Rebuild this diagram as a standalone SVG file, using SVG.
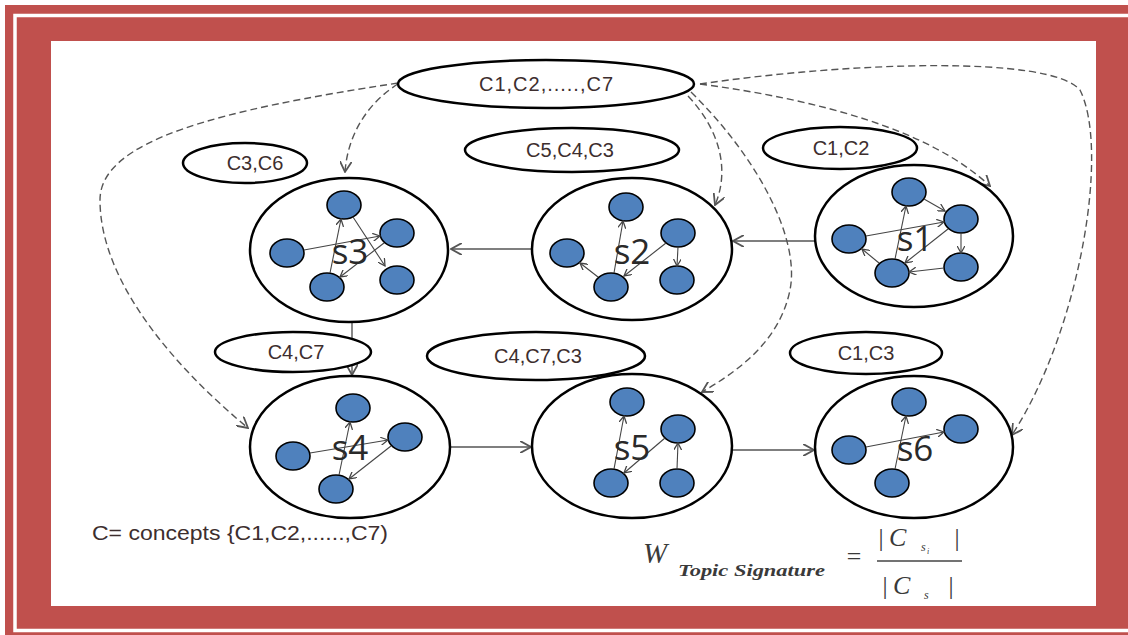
<svg xmlns="http://www.w3.org/2000/svg" width="1128" height="635" viewBox="0 0 1128 635">
<style>
.big{fill:#fff;stroke:#000;stroke-width:2.5}
.lab{fill:#fff;stroke:#000;stroke-width:2.5}
.n{fill:#4f81bd;stroke:#000;stroke-width:1.6}
.e{stroke:#444;stroke-width:1.1;fill:none;marker-end:url(#sa)}
.c{stroke:#555;stroke-width:1.4;fill:none;marker-end:url(#ma)}
.d{stroke:#555;stroke-width:1.4;fill:none;stroke-dasharray:7,4;marker-end:url(#ma)}
.lt{font-family:"Liberation Sans",Arial,sans-serif;font-size:20px;fill:#3d2e2e;text-anchor:middle}
.st{font-family:"Open Sans","Liberation Sans",sans-serif;font-size:35px;fill:#2a2a2a;text-anchor:middle}
.f{font-family:"Liberation Serif","Times New Roman",serif;font-style:italic;fill:#3a3a3a}
</style>
<defs>
<marker id="ma" markerUnits="userSpaceOnUse" markerWidth="12" markerHeight="12" refX="9" refY="5" orient="auto" viewBox="0 0 10 10">
<path d="M0,0 L9,5 L0,10" fill="none" stroke="#555" stroke-width="1.5"/>
</marker>
<marker id="sa" markerUnits="userSpaceOnUse" markerWidth="8" markerHeight="8" refX="9" refY="5" orient="auto" viewBox="0 0 10 10">
<path d="M0,0 L9,5 L0,10" fill="none" stroke="#444" stroke-width="1.6"/>
</marker>
</defs>
<g id="frame">
<rect x="5" y="5" width="1130" height="640" fill="#c0504d"/>
<rect x="15" y="15.5" width="1120" height="615" fill="none" stroke="#fff" stroke-width="3.5"/>
<rect x="51" y="41" width="1045" height="565" fill="#fff"/>
</g>
<g id="connectors">
<path class="c" d="M532,249 L451,249"/>
<path class="c" d="M815,241 L733,241"/>
<path class="c" d="M352,322 L352,375"/>
<path class="c" d="M450,447 L531,447"/>
<path class="c" d="M732,450 L814,450"/>
<path class="d" d="M398,84 C372,100 348,130 345,172"/>
<path class="d" d="M398,83 C220,110 100,140 100,200 C100,290 190,380 248,428"/>
<path class="d" d="M688,96 C720,130 730,170 715,205"/>
<path class="d" d="M691,92 C760,160 800,240 790,290 C780,340 740,370 702,392"/>
<path class="d" d="M700,84 C820,100 930,130 990,186"/>
<path class="d" d="M700,84 C850,62 1050,55 1080,90 C1110,150 1080,330 1012,435"/>
</g>
<g id="top">
<ellipse class="lab" cx="546" cy="84" rx="148" ry="24"/>
<text class="lt" x="546" y="91" textLength="134" lengthAdjust="spacing">C1,C2,.....,C7</text>
</g>
<g id="label-s3"><ellipse class="lab" cx="245" cy="163" rx="62" ry="20"/><text class="lt" x="255" y="170">C3,C6</text></g>
<g id="label-s2"><ellipse class="lab" cx="572" cy="150" rx="107" ry="22"/><text class="lt" x="570" y="157">C5,C4,C3</text></g>
<g id="label-s1"><ellipse class="lab" cx="840" cy="148" rx="77" ry="21"/><text class="lt" x="841" y="155">C1,C2</text></g>
<g id="label-s4"><ellipse class="lab" cx="293" cy="352" rx="78" ry="20"/><text class="lt" x="296" y="359">C4,C7</text></g>
<g id="label-s5"><ellipse class="lab" cx="536" cy="356" rx="109" ry="24"/><text class="lt" x="538" y="363">C4,C7,C3</text></g>
<g id="label-s6"><ellipse class="lab" cx="866" cy="353" rx="76" ry="21"/><text class="lt" x="866" y="360">C1,C3</text></g>
<g id="s3">
<ellipse class="big" cx="349" cy="250" rx="99" ry="72"/>
<ellipse class="n" cx="344" cy="205" rx="17" ry="14"/>
<ellipse class="n" cx="397" cy="233" rx="17" ry="14"/>
<ellipse class="n" cx="287" cy="253" rx="17" ry="14"/>
<ellipse class="n" cx="327" cy="287" rx="17" ry="14"/>
<ellipse class="n" cx="397" cy="280" rx="17" ry="14"/>
<path class="e" d="M304,250 L380,236"/>
<path class="e" d="M330,273 L341,219"/>
<path class="e" d="M353,217 L385,266"/>
<path class="e" d="M384,243 L340,277"/>
<text class="st" x="350" y="264">s3</text>
</g>
<g id="s2">
<ellipse class="big" cx="632" cy="249" rx="100" ry="71"/>
<ellipse class="n" cx="626" cy="207" rx="17" ry="14"/>
<ellipse class="n" cx="678" cy="233" rx="17" ry="14"/>
<ellipse class="n" cx="567" cy="253" rx="17" ry="14"/>
<ellipse class="n" cx="611" cy="287" rx="17" ry="14"/>
<ellipse class="n" cx="677" cy="280" rx="17" ry="14"/>
<path class="e" d="M614,273 L623,221"/>
<path class="e" d="M598,277 L580,263"/>
<path class="e" d="M666,243 L624,276"/>
<path class="e" d="M678,247 L677,266"/>
<text class="st" x="632" y="264">s2</text>
</g>
<g id="s1">
<ellipse class="big" cx="914" cy="236" rx="99" ry="71"/>
<ellipse class="n" cx="909" cy="192" rx="17" ry="14"/>
<ellipse class="n" cx="961" cy="219" rx="17" ry="14"/>
<ellipse class="n" cx="849" cy="239" rx="17" ry="14"/>
<ellipse class="n" cx="892" cy="273" rx="17" ry="14"/>
<ellipse class="n" cx="961" cy="267" rx="17" ry="14"/>
<path class="e" d="M924,199 L945,211"/>
<path class="e" d="M866,236 L944,222"/>
<path class="e" d="M895,259 L906,206"/>
<path class="e" d="M948,229 L905,263"/>
<path class="e" d="M961,233 L961,253"/>
<path class="e" d="M944,268 L909,272"/>
<path class="e" d="M879,263 L862,249"/>
<text class="st" x="915" y="251">s1</text>
</g>
<g id="s4">
<ellipse class="big" cx="350" cy="447" rx="100" ry="71"/>
<ellipse class="n" cx="353" cy="408" rx="17" ry="14"/>
<ellipse class="n" cx="405" cy="437" rx="17" ry="14"/>
<ellipse class="n" cx="293" cy="456" rx="17" ry="14"/>
<ellipse class="n" cx="336" cy="489" rx="17" ry="14"/>
<path class="e" d="M310,453 L388,440"/>
<path class="e" d="M339,475 L350,422"/>
<path class="e" d="M391,446 L349,479"/>
<text class="st" x="350" y="460">s4</text>
</g>
<g id="s5">
<ellipse class="big" cx="632" cy="446" rx="100" ry="72"/>
<ellipse class="n" cx="627" cy="402" rx="17" ry="14"/>
<ellipse class="n" cx="678" cy="429" rx="17" ry="14"/>
<ellipse class="n" cx="611" cy="483" rx="17" ry="14"/>
<ellipse class="n" cx="677" cy="483" rx="17" ry="14"/>
<path class="e" d="M614,469 L624,416"/>
<path class="e" d="M665,438 L624,473"/>
<path class="e" d="M677,469 L678,443"/>
<text class="st" x="632" y="460">s5</text>
</g>
<g id="s6">
<ellipse class="big" cx="914" cy="447" rx="99" ry="71"/>
<ellipse class="n" cx="909" cy="402" rx="17" ry="14"/>
<ellipse class="n" cx="961" cy="429" rx="17" ry="14"/>
<ellipse class="n" cx="849" cy="450" rx="17" ry="14"/>
<ellipse class="n" cx="892" cy="483" rx="17" ry="14"/>
<path class="e" d="M866,447 L944,432"/>
<path class="e" d="M895,469 L906,416"/>
<text class="st" x="915" y="461">s6</text>
</g>
<g id="legend">
<text class="lt" x="92" y="540" style="text-anchor:start" textLength="296" lengthAdjust="spacingAndGlyphs">C= concepts {C1,C2,......,C7)</text>
</g>
<g id="formula">
<text class="f" x="643" y="563" font-size="29">W</text>
<text class="f" x="678" y="576" font-size="16" font-weight="bold" textLength="147" lengthAdjust="spacingAndGlyphs">Topic Signature</text>
<text class="f" x="845" y="565" font-size="26" font-style="normal">=</text>
<text class="f" x="877" y="546" font-size="26" font-style="normal">|</text>
<text class="f" x="889" y="546" font-size="26">C</text>
<text class="f" x="921" y="551" font-size="12">s</text>
<text class="f" x="927" y="554" font-size="8">i</text>
<text class="f" x="953" y="546" font-size="26" font-style="normal">|</text>
<line x1="877" y1="561" x2="962" y2="561" stroke="#444" stroke-width="1.5"/>
<text class="f" x="881" y="594" font-size="26" font-style="normal">|</text>
<text class="f" x="893" y="594" font-size="26">C</text>
<text class="f" x="924" y="599" font-size="12">s</text>
<text class="f" x="947" y="594" font-size="26" font-style="normal">|</text>
</g>
</svg>
